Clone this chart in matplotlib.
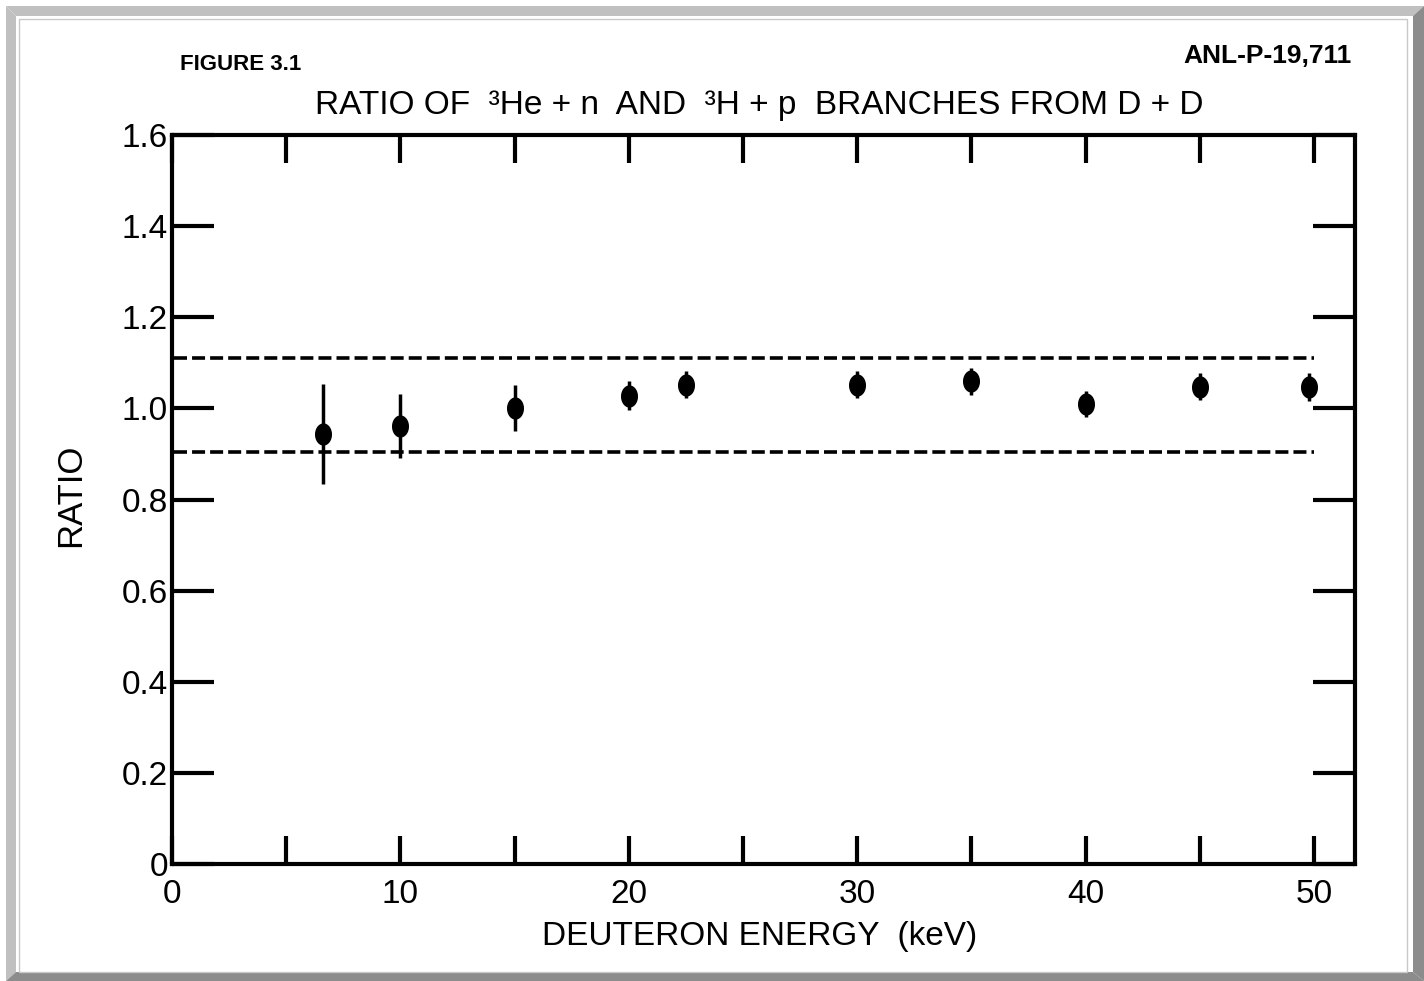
import matplotlib
matplotlib.use("Agg")
import numpy as np
import matplotlib.pyplot as plt
from matplotlib.patches import Polygon, Rectangle

plt.rcParams['font.family'] = ['Liberation Sans', 'DejaVu Sans']

# Data
energy = [6.6, 10.0, 15.0, 20.0, 22.5, 30.0, 35.0, 40.0, 45.0, 49.8]
ratio = [0.944, 0.962, 1.001, 1.028, 1.052, 1.052, 1.059, 1.010, 1.048, 1.047]
ratio_err = [0.11, 0.07, 0.05, 0.032, 0.03, 0.03, 0.03, 0.028, 0.03, 0.03]

band_upper = 1.11
band_lower = 0.905
band_x = [0.1, 50.0]

x_ticks = [0, 5, 10, 15, 20, 25, 30, 35, 40, 45, 50]
x_labels = ['0', '', '10', '', '20', '', '30', '', '40', '', '50']
y_ticks = [0, 0.2, 0.4, 0.6, 0.8, 1.0, 1.2, 1.4, 1.6]
y_labels = ['0', '0.2', '0.4', '0.6', '0.8', '1.0', '1.2', '1.4', '1.6']

W, H = 1424, 981
fig = plt.figure(figsize=(W / 100, H / 100), dpi=100)
fig.patch.set_facecolor('white')


def px(x, y):
    return (x / W, 1 - y / H)


# scanned-page frame
light = '#c0c0c0'
dark = '#8c8c8c'
fig.patches.append(Polygon([px(6, 6), px(1424, 6), px(1413, 16), px(16, 16)],
                           closed=True, transform=fig.transFigure, fc=light, ec='none'))
fig.patches.append(Polygon([px(6, 6), px(16, 16), px(16, 972), px(6, 981)],
                           closed=True, transform=fig.transFigure, fc=light, ec='none'))
fig.patches.append(Polygon([px(1413, 16), px(1424, 6), px(1424, 981), px(1413, 972)],
                           closed=True, transform=fig.transFigure, fc=dark, ec='none'))
fig.patches.append(Polygon([px(6, 981), px(16, 972), px(1413, 972), px(1424, 981)],
                           closed=True, transform=fig.transFigure, fc=dark, ec='none'))
x0, y0 = px(19, 972)
fig.patches.append(Rectangle((x0, y0), (1407 - 19) / W, (972 - 19) / H,
                             transform=fig.transFigure, fc='none', ec='#c8c8c8', lw=1))

ax = fig.add_axes([172 / W, 1 - 864 / H, (1355 - 172) / W, (864 - 135) / H])

ax.plot(band_x, [band_upper, band_upper], color='black', lw=2.6, linestyle=(0, (3.6, 1.4)))
ax.plot(band_x, [band_lower, band_lower], color='black', lw=2.6, linestyle=(0, (3.6, 1.4)))

# slightly tall, egg-shaped dots like the hand-drawn ones
t = np.linspace(0, 2 * np.pi, 40)
dot = list(zip(0.75 * np.cos(t), np.sin(t)))
ax.errorbar(energy, ratio, yerr=ratio_err, fmt='none', ecolor='black',
            elinewidth=2.5, capsize=0)
ax.plot(energy, ratio, linestyle='none', marker=dot, ms=15, color='black')

ax.set_xlim(0, 51.8)
ax.set_ylim(0, 1.6)
ax.set_xticks(x_ticks)
ax.set_xticklabels(x_labels)
ax.set_yticks(y_ticks)
ax.set_yticklabels(y_labels)

for s in ax.spines.values():
    s.set_linewidth(3)
ax.tick_params(axis='x', direction='in', top=True, bottom=True, length=20, width=3,
               labelsize=24, pad=11)
ax.tick_params(axis='y', direction='in', left=True, right=True, length=30, width=3,
               labelsize=24, pad=3)

ax.set_xlabel('DEUTERON ENERGY  (keV)', fontsize=24)
ax.xaxis.set_label_coords(0.497, -0.078)
ax.set_ylabel('RATIO', fontsize=25)
ax.yaxis.set_label_coords(-0.072, 0.506)

ax.set_title('RATIO OF  \u00b3He + n  AND  \u00b3H + p  BRANCHES FROM D + D',
             fontsize=24, x=0.496, pad=15)

fig.text(180 / W, 1 - 64 / H, 'FIGURE 3.1', fontsize=16, fontweight='bold',
         ha='left', va='center')
fig.text(1352 / W, 1 - 56 / H, 'ANL-P-19,711', fontsize=19, fontweight='bold',
         ha='right', va='center')

fig.savefig('out.png', dpi=100)
